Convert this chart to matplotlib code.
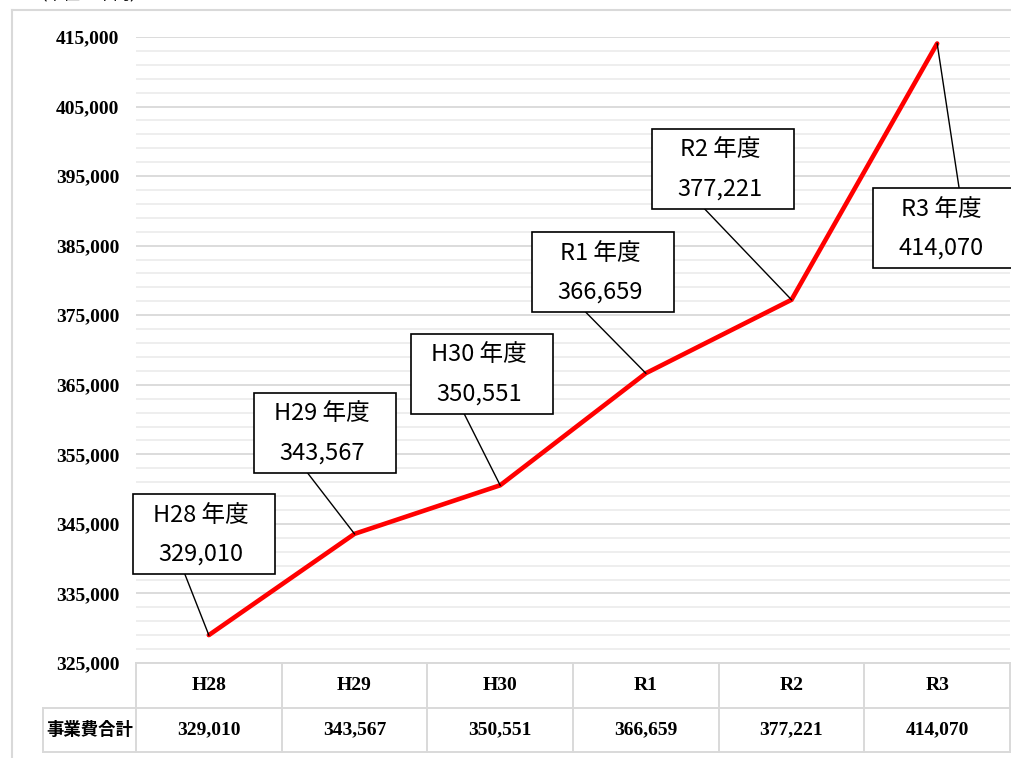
import matplotlib
matplotlib.use('Agg')
import numpy as np
import matplotlib.pyplot as plt
from matplotlib.patches import Rectangle
from matplotlib.lines import Line2D
from matplotlib.transforms import IdentityTransform

# ---- data ----
categories = ['H28', 'H29', 'H30', 'R1', 'R2', 'R3']
label_names = ['H28 年度', 'H29 年度', 'H30 年度', 'R1 年度', 'R2 年度', 'R3 年度']
values = [329010, 343567, 350551, 366659, 377221, 414070]
row_label = '事業費合計'
unit_text = '（単位：千円）'
y_min, y_max, y_major, y_minor = 325000, 415000, 10000, 2000

# ---- layout (pixels) ----
W, H = 1012, 758
box_w, box_h = 142, 80
# box centre offset from its point (dx right, dy down), leader attach side & x offset
box_offsets = [(-5, -101), (-29.5, -101), (-18.5, -111.5), (-43, -101), (-68.5, -131), (7, 185)]
leader_attach = [('bottom', -19), ('bottom', -17.5), ('bottom', -17.5),
                 ('bottom', -17), ('bottom', -18.5), ('top', 15)]

SERIF = ['Liberation Serif', 'DejaVu Serif']
JP = ['Noto Sans CJK JP', 'DejaVu Sans']
GRID_MAJOR = '#d9d9d9'
GRID_MINOR = '#ededed'
ID = IdentityTransform()

fig = plt.figure(figsize=(W / 100, H / 100), dpi=100)
fig.patch.set_facecolor('white')
ax = fig.add_axes([136 / W, (H - 663) / H, (1010 - 136) / W, (663 - 37) / H])
ax.set_facecolor('none')

x = np.arange(len(categories))
ax.set_xlim(-0.5, len(categories) - 0.5)
ax.set_ylim(y_min, y_max)

major_ticks = np.arange(y_min, y_max + 1, y_major)
minor_ticks = np.arange(y_min, y_max + 1, y_minor)
ax.set_yticks(minor_ticks, minor=True)
ax.set_yticks(major_ticks, labels=[f'{int(t):,}' for t in major_ticks],
              fontsize=14, fontweight='bold', fontfamily=SERIF)
ax.grid(which='minor', axis='y', color=GRID_MINOR, lw=1.3)
ax.grid(which='major', axis='y', color=GRID_MAJOR, lw=1.3)
ax.set_axisbelow(True)
for s in ax.spines.values():
    s.set_visible(False)
ax.tick_params(axis='y', which='both', length=0, pad=12)
ax.tick_params(axis='x', which='both', length=0, labelbottom=False)
ax.set_xticks([])

ax.plot(x, values, color='#ff0000', lw=3.3, solid_capstyle='round',
        solid_joinstyle='miter', zorder=3, clip_on=False)

# ---- data labels with leader lines ----
for i, (name, v) in enumerate(zip(label_names, values)):
    px, py = ax.transData.transform((x[i], v))
    dx, dy = box_offsets[i]
    cx, cy = px + dx, py - dy
    side, ax_off = leader_attach[i]
    ly = cy - box_h / 2 if side == 'bottom' else cy + box_h / 2
    fig.add_artist(Line2D([cx + ax_off, px], [ly, py], transform=ID,
                          color='black', lw=1.0, zorder=4))
    fig.add_artist(Rectangle((cx - box_w / 2, cy - box_h / 2), box_w, box_h,
                             transform=ID, facecolor='white', edgecolor='black',
                             lw=1.2, zorder=5))
    fig.text(cx - 3, cy + 19, name, transform=ID, ha='center', va='center',
             fontsize=17, family=JP, zorder=6)
    fig.text(cx - 3, cy - 20, f'{v:,}', transform=ID, ha='center', va='center',
             fontsize=17, family=JP, zorder=6)

# ---- data table ----
edges = [ax.transData.transform((e, y_min))[0] for e in np.arange(-0.5, len(categories), 1.0)]
top = ax.transData.transform((0, y_min))[1]
mid = top - 45
bot = mid - 44
lab_left = 43
tcol = GRID_MAJOR
tlw = 1.4
fig.add_artist(Line2D([edges[0], edges[-1]], [top, top], transform=ID, color=tcol, lw=tlw))
fig.add_artist(Line2D([lab_left, edges[-1]], [mid, mid], transform=ID, color=tcol, lw=tlw))
fig.add_artist(Line2D([lab_left, edges[-1]], [bot, bot], transform=ID, color=tcol, lw=tlw))
for e in edges:
    fig.add_artist(Line2D([e, e], [top, bot], transform=ID, color=tcol, lw=tlw))
fig.add_artist(Line2D([lab_left, lab_left], [mid, bot], transform=ID, color=tcol, lw=tlw))

for i, (c, v) in enumerate(zip(categories, values)):
    cxm = (edges[i] + edges[i + 1]) / 2
    fig.text(cxm, (top + mid) / 2, c, transform=ID, ha='center', va='center',
             fontsize=14, fontweight='bold', family=SERIF)
    fig.text(cxm, (mid + bot) / 2, f'{v:,}', transform=ID, ha='center', va='center',
             fontsize=14, fontweight='bold', family=SERIF)
fig.text((lab_left + edges[0]) / 2, (mid + bot) / 2, row_label, transform=ID,
         ha='center', va='center', fontsize=12.5, fontweight='bold', family=JP)

# ---- outer chart frame ----
fig.add_artist(Line2D([12, 12], [0, H - 10], transform=ID, color=GRID_MAJOR, lw=1.5))
fig.add_artist(Line2D([12, W], [H - 10, H - 10], transform=ID, color=GRID_MAJOR, lw=1.5))

# unit caption (cut at the top edge in the reference)
fig.text(30, H + 1, unit_text, transform=ID, ha='left', va='baseline',
         fontsize=12, family=JP)

fig.savefig('out.png', dpi=100)
